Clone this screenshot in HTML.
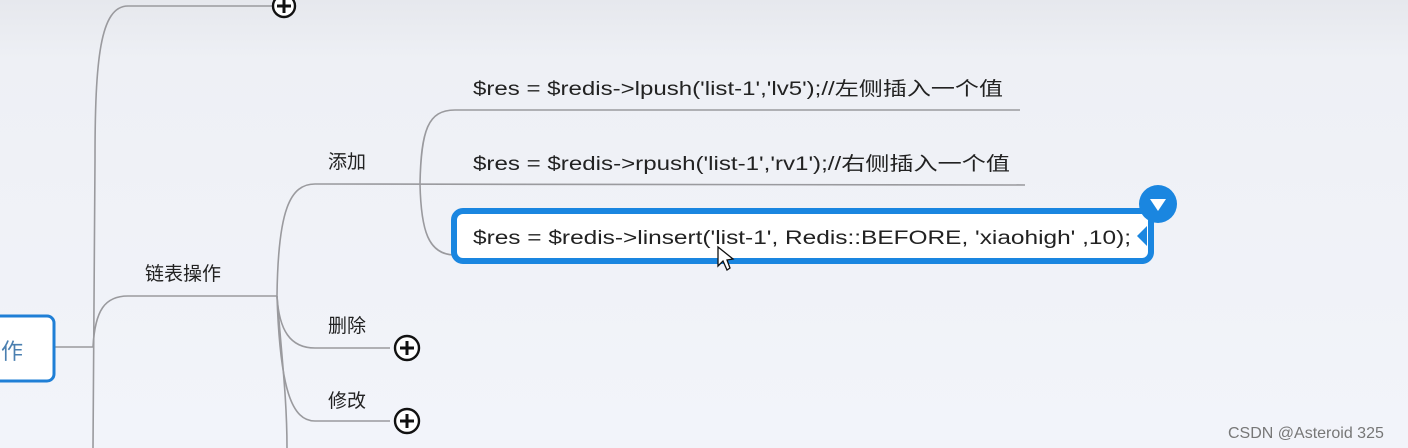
<!DOCTYPE html>
<html><head><meta charset="utf-8"><style>
html,body{margin:0;padding:0;width:1408px;height:448px;overflow:hidden;}
body{background:linear-gradient(#e6e8ed 0px,#eef0f5 60px,#f2f4fa 448px);}
svg{position:absolute;left:0;top:0;}
text{font-family:"Liberation Sans","Noto Sans CJK SC",sans-serif;fill:#222;}
</style></head><body>
<svg width="1408" height="448" viewBox="0 0 1408 448">
<g fill="none" stroke="#9a9a9e" stroke-width="1.6">
<path d="M272,6 L128,6 C100,6 95,60 95,160 L93,448"/>
<path d="M54,347 L93,347"/>
<path d="M93,347 C95,310 105,296 128,296 L277,296"/>
<path d="M277,296 C278,210 290,184 315,184 L1025,185"/>
<path d="M277,296 C279,330 290,348 315,348 L390,348"/>
<path d="M277,296 C280,390 292,421 315,421 L390,421"/>
<path d="M277,296 C282,360 287,400 287,448"/>
<path d="M420,184 C421,130 428,110 455,110 L1020,110"/>
<path d="M420,184 C421,230 428,255 455,255"/>
</g>
<g stroke="#111" stroke-width="2.4" fill="#fff">
<circle cx="284" cy="6" r="11"/>
<circle cx="407" cy="348" r="12"/>
<circle cx="407" cy="421" r="12"/>
</g>
<g stroke="#111" stroke-width="3">
<path d="M277,6h14M284,-1v14"/>
<path d="M400,348h14M407,341v14"/>
<path d="M400,421h14M407,414v14"/>
</g>
<rect x="-10" y="316" width="64" height="65" rx="7" fill="#fff" stroke="#1f7fd6" stroke-width="3"/>
<text x="1" y="359" font-size="22" style="fill:#4a7fb0">作</text>
<text x="145" y="280" font-size="19">链表操作</text>
<text x="328" y="168" font-size="19">添加</text>
<text x="328" y="332" font-size="19">删除</text>
<text x="328" y="407" font-size="19">修改</text>
<text x="473" y="95" font-size="19" textLength="530" lengthAdjust="spacingAndGlyphs">$res = $redis-&gt;lpush('list-1','lv5');//左侧插入一个值</text>
<text x="473" y="170" font-size="19" textLength="537" lengthAdjust="spacingAndGlyphs">$res = $redis-&gt;rpush('list-1','rv1');//右侧插入一个值</text>
<rect x="454" y="211" width="697" height="50" rx="9" fill="#fff" stroke="#1a86e0" stroke-width="6"/>
<text x="473" y="244" font-size="19" textLength="658" lengthAdjust="spacingAndGlyphs">$res = $redis-&gt;linsert('list-1', Redis::BEFORE, 'xiaohigh' ,10);</text>
<circle cx="1158" cy="204" r="19" fill="#1a86e0"/>
<path d="M1150,199 L1166,199 L1158,211 Z" fill="#fff"/>
<path d="M1137,236 L1147,226 L1147,246 Z" fill="#1a86e0"/>
<path d="M718,247 L718,266 L723,261 L727,270 L730,268 L727,260 L733,259 Z" fill="#fff" stroke="#111" stroke-width="1.3"/>
<text x="1228" y="438" font-size="16" style="fill:#777">CSDN @Asteroid 325</text>
</svg>
</body></html>
